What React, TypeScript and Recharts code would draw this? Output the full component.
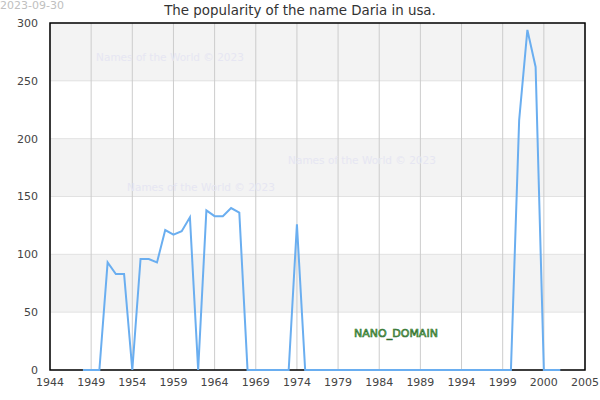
import {
  CartesianGrid,
  Customized,
  Line,
  LineChart,
  ReferenceArea,
  XAxis,
  YAxis,
} from "recharts";

const years = [
  1948, 1949, 1950, 1951, 1952, 1953, 1954, 1955, 1956, 1957, 1958, 1959, 1960,
  1961, 1962, 1963, 1964, 1965, 1966, 1967, 1968, 1969, 1970, 1971, 1972, 1973,
  1974, 1975, 1976, 1977, 1978, 1979, 1980, 1981, 1982, 1983, 1984, 1985, 1986,
  1987, 1988, 1989, 1990, 1991, 1992, 1993, 1994, 1995, 1996, 1997, 1998, 1999,
  2000, 2001, 2002, 2003, 2004, 2005, 2006,
];

const counts = [
  0, 0, 0, 93, 83, 83, 0, 96, 96, 93, 121, 117, 120,
  132, 0, 138, 133, 133, 140, 136, 0, 0, 0, 0, 0, 0,
  126, 0, 0, 0, 0, 0, 0, 0, 0, 0, 0, 0, 0,
  0, 0, 0, 0, 0, 0, 0, 0, 0, 0, 0, 0, 0,
  0, 216, 294, 262, 0, 0, 0,
];

const xTicks = [1944, 1949, 1954, 1959, 1964, 1969, 1974, 1979, 1984, 1989, 1994, 1999, 2004, 2009];
const xTickLabels = ["1944", "1949", "1954", "1959", "1964", "1969", "1974", "1979", "1984", "1989", "1994", "1999", "2000", "2005"];
const yTicks = [0, 50, 100, 150, 200, 250, 300];

const watermarks = [
  { x: 170, y: 61 },
  { x: 362, y: 164 },
  { x: 201, y: 191 },
];

const data = years.map((year, i) => ({ year, count: counts[i] }));

const font = "'DejaVu Sans', sans-serif";

const Overlay = () => (
  <g>
    {watermarks.map((w, i) => (
      <text key={i} x={w.x} y={w.y} textAnchor="middle" fontSize={10.5} fontFamily={font} fill="#e6e6f2">
        Names of the World © 2023
      </text>
    ))}
    <text
      x={396}
      y={337}
      textAnchor="middle"
      fontSize={11}
      fontFamily={font}
      fill="#7cc46a"
      stroke="#2a6a2a"
      strokeWidth={0.6}
    >
      NANO_DOMAIN
    </text>
    <text x={0} y={9} fontSize={11} fontFamily={font} fill="#c0c0c0">
      2023-09-30
    </text>
    <text x={300} y={15} textAnchor="middle" fontSize={13.4} fontFamily={font} fill="#333">
      The popularity of the name Daria in usa.
    </text>
  </g>
);

const App = () => {
  return (
    <div style={{ position: "absolute", left: 0, top: 0, width: 600, height: 400, background: "#fff" }}>
      <LineChart width={600} height={400} data={data} margin={{ top: 23, right: 15, bottom: 0, left: 0 }}>
        <CartesianGrid
          vertical={false}
          stroke="#e2e2e2"
          horizontalFill={["#f3f3f3", "#ffffff"]}
        />
        <CartesianGrid horizontal={false} stroke="#cccccc" />
        <XAxis
          dataKey="year"
          type="number"
          domain={[1944, 2009]}
          ticks={xTicks}
          tickFormatter={(v: number) => xTickLabels[xTicks.indexOf(v)]}
          tickLine={false}
          axisLine={false}
          height={30}
          tick={{ fill: "#444", fontSize: 11, fontFamily: font }}
          tickMargin={2}
        />
        <YAxis
          domain={[0, 300]}
          ticks={yTicks}
          tickLine={false}
          axisLine={false}
          width={50}
          tick={{ fill: "#444", fontSize: 11, fontFamily: font }}
          tickMargin={6}
        />
        <Line
          type="linear"
          dataKey="count"
          stroke="#6aaef0"
          strokeWidth={2}
          dot={false}
          isAnimationActive={false}
        />
        <ReferenceArea x1={1944} x2={2009} y1={0} y2={300} fill="none" stroke="#000" strokeWidth={1.5} />
        <Customized component={Overlay} />
      </LineChart>
    </div>
  );
};

export default App;
